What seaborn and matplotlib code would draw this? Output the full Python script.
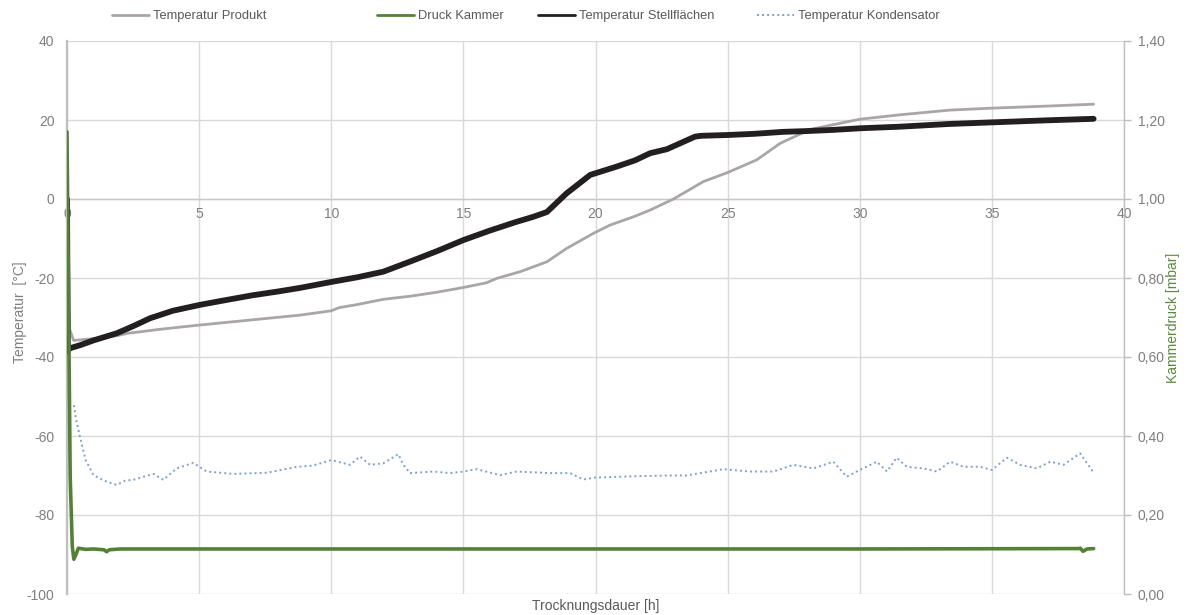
import matplotlib
matplotlib.use("Agg")
import matplotlib.pyplot as plt
import seaborn as sns
import pandas as pd
from matplotlib.lines import Line2D
from matplotlib.ticker import FuncFormatter

# ---------------- data ----------------
stell_h = [0, 0.03, 0.1, 0.5, 1.0, 1.88, 2.5, 3.14, 4.0, 5.03, 6.0, 7.0, 8.0, 8.82,
           10.0, 11.0, 11.97, 13.0, 14.0, 15.0, 16.0, 17.0, 17.65, 18.16, 18.9, 19.8,
           20.8, 21.5, 22.07, 22.7, 23.77, 24.0, 25.0, 26.0, 27.1, 28.0, 29.0, 30.0,
           31.5, 33.4, 35.0, 37.0, 38.85]
stell_t = [0, -38.5, -37.8, -37.0, -35.8, -34.0, -32.2, -30.2, -28.3, -26.8, -25.6, -24.4,
           -23.4, -22.5, -21.0, -19.8, -18.4, -15.8, -13.2, -10.4, -8.0, -5.8, -4.5, -3.3,
           1.4, 6.1, 8.2, 9.8, 11.6, 12.6, 15.8, 16.0, 16.2, 16.5, 17.0, 17.2, 17.5, 17.9,
           18.3, 19.0, 19.4, 19.9, 20.3]

prod_h = [0.0, 0.1, 0.25, 0.6, 1.25, 1.9, 2.3, 3.5, 5.03, 7.0, 8.82, 10.0, 10.3, 11.0,
          11.97, 13.0, 14.0, 15.0, 15.88, 16.26, 17.15, 18.16, 18.91, 19.92, 20.55, 21.44,
          22.07, 22.95, 24.08, 25.0, 26.1, 26.99, 28.12, 30.0, 31.5, 33.4, 35.0, 37.0, 38.85]
prod_t = [-20.0, -33.0, -35.8, -35.6, -35.2, -34.6, -34.0, -33.0, -31.9, -30.6, -29.4, -28.3,
          -27.5, -26.7, -25.4, -24.6, -23.6, -22.4, -21.2, -20.1, -18.4, -15.9, -12.5, -8.7,
          -6.6, -4.5, -2.8, 0.0, 4.4, 6.7, 9.9, 14.1, 17.6, 20.2, 21.3, 22.5, 23.0, 23.5, 24.0]

druck_h = [0, 0.12, 0.2, 0.26, 0.34, 0.43, 0.7, 1.0, 1.4, 1.5, 1.6, 2.0, 10.0, 20.0, 30.0,
           38.3, 38.35, 38.45, 38.6, 38.85]
druck_p = [1.17, 0.30, 0.12, 0.088, 0.10, 0.116, 0.113, 0.114, 0.112, 0.107, 0.112, 0.114,
           0.114, 0.114, 0.114, 0.115, 0.116, 0.108, 0.114, 0.115]

kond_h = [0.26, 0.35, 0.49, 0.7, 1.0, 1.4, 1.88, 2.2, 2.51, 2.9, 3.27, 3.65, 4.15, 4.78,
          5.29, 6.3, 7.56, 8.7, 9.3, 10.0, 10.71, 11.09, 11.47, 11.97, 12.54, 12.73, 12.98,
          13.86, 14.5, 15.0, 15.5, 16.39, 17.02, 18.28, 19.04, 19.54, 20.0, 20.17, 21.43,
          22.7, 23.45, 23.96, 24.84, 25.85, 26.73, 27.49, 28.25, 29.0, 29.51, 30.0, 30.65,
          31.03, 31.4, 31.78, 32.41, 32.92, 33.42, 33.93, 34.56, 35.0, 35.57, 36.07, 36.7,
          37.21, 37.71, 38.34, 38.78, 38.85]
kond_t = [-52.2, -56.0, -60.2, -66.0, -69.9, -71.3, -72.4, -71.3, -71.1, -70.3, -69.6,
          -71.1, -68.2, -66.8, -69.0, -69.6, -69.3, -67.8, -67.5, -66.1, -67.3, -65.2, -67.3,
          -66.9, -64.6, -67.3, -69.4, -69.0, -69.4, -69.0, -68.4, -69.9, -69.0, -69.4, -69.4,
          -71.0, -70.5, -70.5, -70.2, -70.0, -70.0, -69.4, -68.4, -69.0, -69.0, -67.3, -68.2,
          -66.5, -70.3, -68.6, -66.5, -69.0, -65.5, -67.8, -68.2, -69.0, -66.5, -67.8, -67.8,
          -68.6, -65.5, -67.3, -68.2, -66.5, -67.3, -64.4, -68.6, -69.5]

x_ticks = [0, 5, 10, 15, 20, 25, 30, 35, 40]
t_ticks = [-100, -80, -60, -40, -20, 0, 20, 40]
p_ticks = [0.0, 0.2, 0.4, 0.6, 0.8, 1.0, 1.2, 1.4]

names = ["Temperatur Produkt", "Druck Kammer", "Temperatur Stellflächen",
         "Temperatur Kondensator"]

# ---------------- style ----------------
sns.set_theme(style="white")
plt.rcParams["font.family"] = ["Liberation Sans", "DejaVu Sans"]
plt.rcParams["axes.unicode_minus"] = False

C_PROD = "#aaa6a6"
C_DRUCK = "#548235"
C_STELL = "#231f20"
C_KOND = "#7f9fd9"
C_TXT = "#7f7f7f"
C_GRID = "#d9d9d9"

fig = plt.figure(figsize=(11.89, 6.15), dpi=100)
ax = fig.add_axes([67 / 1189, 21 / 615, (1124 - 67) / 1189, 553 / 615])
ax2 = ax.twinx()

df_prod = pd.DataFrame({"h": prod_h, "v": prod_t})
df_stell = pd.DataFrame({"h": stell_h, "v": stell_t})
df_kond = pd.DataFrame({"h": kond_h, "v": kond_t})
df_druck = pd.DataFrame({"h": druck_h, "v": druck_p})

sns.lineplot(data=df_prod, x="h", y="v", ax=ax, color=C_PROD, lw=2.0,
             sort=False, estimator=None, legend=False, zorder=3)
sns.lineplot(data=df_kond, x="h", y="v", ax=ax, color=C_KOND, lw=1.4,
             linestyle=(0, (1, 1.6)), sort=False, estimator=None, legend=False, zorder=3)
sns.lineplot(data=df_stell, x="h", y="v", ax=ax, color=C_STELL, lw=4.2,
             sort=False, estimator=None, legend=False, zorder=4)
sns.lineplot(data=df_druck, x="h", y="v", ax=ax2, color=C_DRUCK, lw=2.6,
             sort=False, estimator=None, legend=False, zorder=3)

# ---------------- axes ----------------
ax.set_xlim(0, 40)
ax.set_ylim(-100, 40)
ax2.set_ylim(0, 1.4)
ax.set_xticks(x_ticks)
ax.set_yticks(t_ticks)
ax2.set_yticks(p_ticks)
ax.set_axisbelow(True)
ax.grid(True, color=C_GRID, lw=1.0)
ax2.grid(False)

ax.spines["bottom"].set_position(("data", 0))
ax.spines["bottom"].set_color("#c8c8c8")
ax.spines["bottom"].set_linewidth(1.0)
ax.spines["top"].set_visible(False)
ax.spines["right"].set_visible(False)
ax.spines["left"].set_color("#bfbfbf")
ax.spines["left"].set_linewidth(1.6)
for s in ["left", "top", "bottom"]:
    ax2.spines[s].set_visible(False)
ax2.spines["right"].set_color("#bfbfbf")
ax2.spines["right"].set_linewidth(1.0)

ax.tick_params(axis="x", length=0, pad=6, labelsize=10, labelcolor=C_TXT)
ax.tick_params(axis="y", length=0, pad=9, labelsize=10, labelcolor=C_TXT)
ax2.tick_params(axis="y", length=5, width=1, color="#bfbfbf", direction="out",
                pad=5, labelsize=10, labelcolor=C_TXT)
ax2.yaxis.set_major_formatter(FuncFormatter(lambda v, p: f"{v:.2f}".replace(".", ",")))

ax.set_xlabel("Trocknungsdauer [h]", fontsize=10, color="#595959")
ax.xaxis.set_label_coords(0.5, -0.009)
ax.set_ylabel("Temperatur  [°C]", fontsize=10, color=C_TXT)
ax.yaxis.set_label_coords(-0.038, 0.51)
ax2.set_ylabel("Kammerdruck [mbar]", fontsize=10, color="#5a8a3c")
ax2.yaxis.set_label_coords(1.040, 0.5)

# ---------------- legend ----------------
handles = [
    Line2D([], [], color=C_PROD, lw=2.0),
    Line2D([], [], color=C_DRUCK, lw=2.0),
    Line2D([], [], color=C_STELL, lw=2.0),
    Line2D([], [], color=C_KOND, lw=1.4, linestyle=(0, (1, 1.6))),
]
leg_x = [112, 377, 538, 757]
for h, n, x in zip(handles, names, leg_x):
    lg = fig.legend(handles=[h], labels=[n], loc="center left",
                    bbox_to_anchor=(x / 1189, 1 - 16 / 615), frameon=False,
                    fontsize=9.3, handlelength=2.9, handletextpad=0.25,
                    borderpad=0, borderaxespad=0)
    for t in lg.get_texts():
        t.set_color("#595959")

fig.savefig("out.png", dpi=100)
